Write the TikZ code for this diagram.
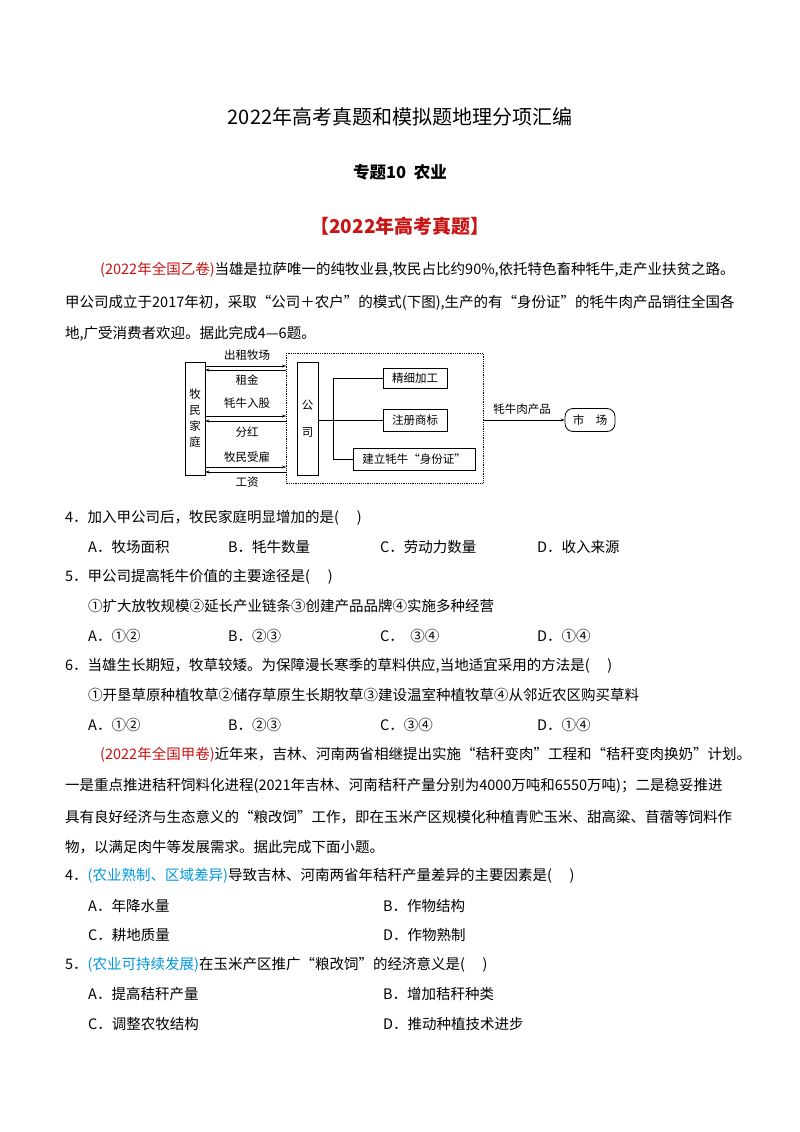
\documentclass[tikz,border=0pt]{standalone}
\usepackage{fontspec}
\setmainfont{Noto Sans CJK SC}
\usetikzlibrary{arrows.meta}
\definecolor{qred}{RGB}{200,20,20}
\definecolor{qblue}{RGB}{0,150,220}
\begin{document}
\begin{tikzpicture}[x=1pt,y=-1pt,
  txt/.style={anchor=west,inner sep=0pt,font=\fontsize{14.5}{16}\selectfont},
  ctr/.style={anchor=center,inner sep=0pt},
  dg/.style={inner sep=0pt,font=\fontsize{11.5}{13}\selectfont},
  bx/.style={draw,line width=0.8pt,inner sep=0pt,font=\fontsize{11.5}{13}\selectfont},
  ar/.style={-{Stealth[length=4pt,width=3pt]},line width=0.7pt},
  ln/.style={line width=0.7pt}]
\useasboundingbox (0,0) rectangle (800,1132);
\fill[white] (0,0) rectangle (800,1132);
% titles
\node[ctr,font=\fontsize{20}{22}\selectfont] (t1) at (400,117) {2022年高考真题和模拟题地理分项汇编};
\node[ctr,font=\fontsize{16.5}{18}\selectfont\bfseries] (t2) at (400,172) {专题10\ \ 农业};
\node[ctr,font=\fontsize{19}{22}\selectfont\bfseries,text=qred] (t3) at (400,226) {【2022年高考真题】};
% para 1
\node[txt] (p1) at (100,270) {\textcolor{qred}{(2022年全国乙卷)}当雄是拉萨唯一的纯牧业县,牧民占比约90\%,依托特色畜种牦牛,走产业扶贫之路。};
\node[txt] (p2) at (65,303) {甲公司成立于2017年初，采取“公司＋农户”的模式(下图),生产的有“身份证”的牦牛肉产品销往全国各};
\node[txt] (p3) at (65,334) {地,广受消费者欢迎。据此完成4—6题。};
% diagram
\node[bx,minimum width=20pt,minimum height=113pt,align=center] (fam) at (195,418.5) {牧\\[3pt]民\\[3pt]家\\[3pt]庭};
\draw[densely dotted,line width=0.8pt] (286,353) rectangle (483,483);
\coordinate (dl1) at (286,366); \coordinate (dl2) at (286,370);
\coordinate (dl3) at (286,416); \coordinate (dl4) at (286,421);
\coordinate (dl5) at (286,467); \coordinate (dl6) at (286,472);
\draw[ar] (fam.east |- dl1) -- (dl1);
\draw[ar] (dl2) -- (fam.east |- dl2);
\draw[ar] (fam.east |- dl3) -- (dl3);
\draw[ar] (dl4) -- (fam.east |- dl4);
\draw[ar] (fam.east |- dl5) -- (dl5);
\draw[ar] (dl6) -- (fam.east |- dl6);
\node[dg] (l1) at (247,355) {出租牧场};
\node[dg] (l2) at (247,380) {租金};
\node[dg] (l3) at (247,403) {牦牛入股};
\node[dg] (l4) at (247,432) {分红};
\node[dg] (l5) at (247,457) {牧民受雇};
\node[dg] (l6) at (247,482) {工资};
\node[bx,minimum width=21pt,minimum height=113pt,align=center] (co) at (307.5,418.5) {公\\[14pt]司};
\node[bx,minimum width=64pt,minimum height=20pt] (b1) at (415,378) {精细加工};
\node[bx,minimum width=64pt,minimum height=22pt] (b2) at (415,420) {注册商标};
\node[bx,minimum width=122pt,minimum height=22pt] (b3) at (414,459) {建立牦牛“身份证”};
\coordinate (br) at (333,420);
\draw[ln] (co.east |- br) -- (b2.west);
\draw[ln] (b1.west) -- (b1.west -| br) -- (b3.west -| br) -- (b3.west);
\node[bx,rounded corners=8pt,minimum width=50pt,minimum height=23pt] (mk) at (590,420) {市\quad 场};
\coordinate (de) at (483,420);
\draw[ar] (de) -- (mk.west);
\node[dg] (l7) at (522,409) {牦牛肉产品};
% questions
\node[txt] (q4) at (65,518) {4．加入甲公司后，牧民家庭明显增加的是(\quad\ )};
\node[txt] (q4a) at (88,547) {A．牧场面积};
\node[txt] (q4b) at (228,547) {B．牦牛数量};
\node[txt] (q4c) at (380,547) {C．劳动力数量};
\node[txt] (q4d) at (537,547) {D．收入来源};
\node[txt] (q5) at (65,577) {5．甲公司提高牦牛价值的主要途径是(\quad\ )};
\node[txt] (q5s) at (88,606) {①扩大放牧规模②延长产业链条③创建产品品牌④实施多种经营};
\node[txt] (q5a) at (88,636) {A．①②};
\node[txt] (q5b) at (228,636) {B．②③};
\node[txt] (q5c) at (380,636) {C．\ \ ③④};
\node[txt] (q5d) at (537,636) {D．①④};
\node[txt] (q6) at (65,666) {6．当雄生长期短，牧草较矮。为保障漫长寒季的草料供应,当地适宜采用的方法是(\quad\ )};
\node[txt] (q6s) at (88,695) {①开垦草原种植牧草②储存草原生长期牧草③建设温室种植牧草④从邻近农区购买草料};
\node[txt] (q6a) at (88,725) {A．①②};
\node[txt] (q6b) at (228,725) {B．②③};
\node[txt] (q6c) at (380,725) {C．③④};
\node[txt] (q6d) at (537,725) {D．①④};
% para 2
\node[txt] (r1) at (100,755) {\textcolor{qred}{(2022年全国甲卷)}近年来，吉林、河南两省相继提出实施“秸秆变肉”工程和“秸秆变肉换奶”计划。};
\node[txt] (r2) at (65,786) {一是重点推进秸秆饲料化进程(2021年吉林、河南秸秆产量分别为4000万吨和6550万吨)；二是稳妥推进};
\node[txt] (r3) at (65,817) {具有良好经济与生态意义的“粮改饲”工作，即在玉米产区规模化种植青贮玉米、甜高粱、苜蓿等饲料作};
\node[txt] (r4) at (65,847) {物，以满足肉牛等发展需求。据此完成下面小题。};
\node[txt] (s4) at (65,876) {4．\textcolor{qblue}{(农业熟制、区域差异)}导致吉林、河南两省年秸秆产量差异的主要因素是(\quad\ )};
\node[txt] (s4a) at (88,906) {A．年降水量};
\node[txt] (s4b) at (383,906) {B．作物结构};
\node[txt] (s4c) at (88,935) {C．耕地质量};
\node[txt] (s4d) at (383,935) {D．作物熟制};
\node[txt] (s5) at (65,965) {5．\textcolor{qblue}{(农业可持续发展)}在玉米产区推广“粮改饲”的经济意义是(\quad\ )};
\node[txt] (s5a) at (88,994) {A．提高秸秆产量};
\node[txt] (s5b) at (383,994) {B．增加秸秆种类};
\node[txt] (s5c) at (88,1024) {C．调整农牧结构};
\node[txt] (s5d) at (383,1024) {D．推动种植技术进步};
\end{tikzpicture}
\end{document}
